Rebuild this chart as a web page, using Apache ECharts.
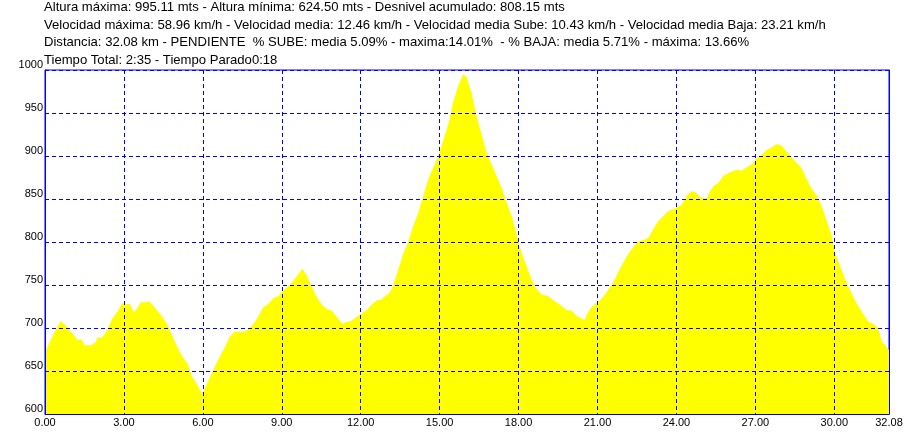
<!DOCTYPE html>
<html>
<head>
<meta charset="utf-8">
<script src="https://cdn.jsdelivr.net/npm/echarts@6/dist/echarts.min.js"></script>
<style>
html,body{margin:0;padding:0;background:#fff;}
#chart{width:911px;height:435px;}
</style>
</head>
<body>
<div id="chart"></div>
<script>
const distanceKm = [0.00,0.22,0.41,0.60,0.85,1.04,1.23,1.38,1.51,1.74,1.93,1.99,2.18,2.37,2.56,2.75,2.94,3.07,3.23,3.38,3.51,3.64,3.83,3.95,4.08,4.27,4.46,4.65,4.84,5.03,5.22,5.41,5.60,5.79,5.92,6.02,6.17,6.36,6.55,6.65,6.84,7.03,7.22,7.60,7.79,7.98,8.17,8.30,8.49,8.68,8.87,9.00,9.19,9.38,9.57,9.78,9.95,10.14,10.33,10.52,10.71,10.90,11.08,11.30,11.46,11.65,11.85,12.04,12.23,12.41,12.60,12.80,12.92,13.11,13.24,13.43,13.62,13.81,14.00,14.19,14.38,14.57,14.76,14.95,15.14,15.33,15.52,15.71,15.90,16.02,16.21,16.40,16.59,16.78,16.97,17.16,17.36,17.55,17.74,17.93,18.11,18.30,18.49,18.69,18.88,19.13,19.38,19.57,19.83,20.02,20.21,20.40,20.52,20.59,20.72,20.90,21.09,21.29,21.48,21.67,21.79,21.98,22.17,22.36,22.49,22.74,22.94,23.12,23.31,23.50,23.69,23.88,24.01,24.20,24.39,24.58,24.71,24.90,25.15,25.28,25.41,25.60,25.79,26.04,26.29,26.48,26.67,26.86,27.05,27.24,27.43,27.62,27.81,28.00,28.19,28.38,28.57,28.76,28.95,29.14,29.33,29.52,29.71,29.91,30.03,30.22,30.41,30.60,30.79,30.98,31.17,31.30,31.49,31.68,31.80,31.93,32.08];
const elevationM = [672,686,698,708,701,694,686,687,680,680,683,689,689,698,711,719,729,728,728,718,723,730,730,731,727,720,713,704,691,678,667,659,643,634,626,626,636,649,661,667,678,690,696,696,700,707,717,724,728,735,737,742,747,753,760,769,761,748,736,727,722,720,713,705,707,708,713,717,721,727,732,733,737,741,751,768,787,801,819,834,854,873,887,900,918,937,963,982,995,992,974,947,926,904,891,877,863,846,830,809,788,772,757,745,739,737,731,727,721,720,714,711,709,715,722,728,732,739,748,757,765,776,786,794,800,802,805,815,824,830,836,838,840,843,854,859,858,852,851,859,865,869,877,881,884,883,887,890,898,901,907,910,914,912,905,899,892,886,873,862,854,842,825,807,788,772,757,744,732,722,713,707,705,699,685,680,674];
const headerLines = [
  'Altura máxima: 995.11 mts - Altura mínima: 624.50 mts - Desnivel acumulado: 808.15 mts',
  'Velocidad máxima: 58.96 km/h - Velocidad media: 12.46 km/h - Velocidad media Sube: 10.43 km/h - Velocidad media Baja: 23.21 km/h',
  'Distancia: 32.08 km - PENDIENTE  % SUBE: media 5.09% - maxima:14.01%  - % BAJA: media 5.71% - máxima: 13.66%',
  'Tiempo Total: 2:35 - Tiempo Parado0:18'
];
const yMin = 600, yMax = 1000, yStep = 50;
const xMin = 0, xMax = 32.08, xStep = 3;

const chart = echarts.init(document.getElementById('chart'), null, {renderer: 'canvas'});
const FONT = '"Liberation Sans", Arial, sans-serif';
const blue = '#0000ff';
const lineY = [8.5, 26, 43.5, 61];
const option = {
  animation: false,
  backgroundColor: '#ffffff',
  graphic: headerLines.map((t, i) => ({
    type: 'text', left: 44, top: lineY[i] - 7.5,
    style: {text: t, fill: '#000', font: '13.1px ' + FONT}
  })),
  grid: {left: 45, right: 22, top: 70, bottom: 21, show: true, borderColor: blue, borderWidth: 1, backgroundColor: 'transparent'},
  xAxis: {
    type: 'value', min: xMin, max: xMax, interval: xStep, z: 5,
    axisLine: {show: true, lineStyle: {color: blue, width: 1}},
    axisTick: {show: false},
    axisLabel: {color: '#000', fontFamily: FONT, fontSize: 11, margin: 3, formatter: v => v.toFixed(2)},
    splitLine: {show: true, lineStyle: {color: blue, width: 1, type: [4, 3], opacity: 1}}
  },
  yAxis: [{
    type: 'value', min: yMin, max: yMax, interval: yStep, z: 5,
    axisLine: {show: true, lineStyle: {color: blue, width: 1}},
    axisTick: {show: false},
    axisLabel: {color: '#000', fontFamily: FONT, fontSize: 11, margin: 2, verticalAlign: 'bottom', formatter: v => String(v)},
    splitLine: {show: true, lineStyle: {color: blue, width: 1, type: [4, 3], opacity: 1}}
  }, {
    type: 'value', min: yMin, max: yMax, interval: yStep, position: 'right', z: 5,
    axisLine: {show: true, onZero: false, lineStyle: {color: blue, width: 1}},
    axisTick: {show: false}, axisLabel: {show: false}, splitLine: {show: false}
  }],
  series: [{
    type: 'line', yAxisIndex: 0, z: 1,
    data: distanceKm.map((d, i) => [d, elevationM[i]]),
    symbol: 'none', smooth: false,
    lineStyle: {width: 0, color: '#ffff00'},
    areaStyle: {color: '#ffff00', opacity: 1, origin: 'start'}
  }]
};
chart.setOption(option);
</script>
</body>
</html>
